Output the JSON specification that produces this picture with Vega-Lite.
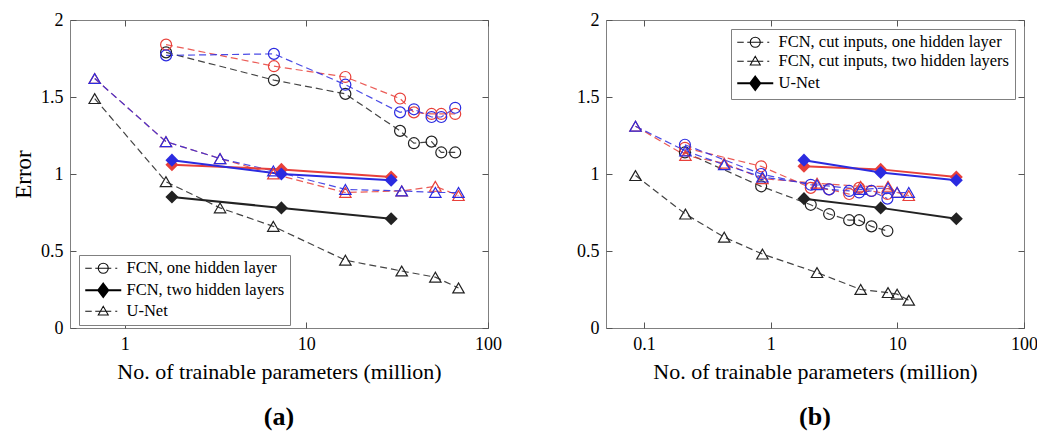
{
  "$schema": "https://vega.github.io/schema/vega-lite/v6.json",
  "background": "white",
  "padding": {"left": 12, "top": 10, "right": 0, "bottom": 0},
  "spacing": 74,
  "resolve": {
    "scale": {"shape": "independent", "color": "independent", "fill": "independent", "stroke": "independent", "strokeWidth": "independent"},
    "legend": {"shape": "independent", "fill": "independent", "stroke": "independent", "strokeWidth": "independent"}
  },
  "config": {
    "font": "Liberation Serif",
    "view": {"stroke": "#808080", "strokeWidth": 1},
    "axis": {
      "domain": false, "grid": false, "tickColor": "#555555", "tickSize": -6, "tickWidth": 1,
      "labelPadding": 13, "labelFontSize": 18, "labelColor": "black", "labelFont": "Liberation Serif",
      "labelFlush": false,
      "titleFontSize": 22, "titleFontWeight": "normal", "titleColor": "black", "titleFont": "Liberation Serif"
    },
    "legend": {
      "labelFont": "Liberation Serif", "orient": "none", "title": null, "direction": "vertical",
      "labelFontSize": 16.5, "labelColor": "black", "labelLimit": 400,
      "symbolSize": 100, "symbolOffset": 11, "labelOffset": 15,
      "symbolOpacity": 1, "strokeColor": "#808080", "fillColor": "white", "padding": 5, "rowPadding": 2
    },
    "title": {"font": "Liberation Serif", "fontSize": 26, "fontWeight": "bold", "color": "black"}
  },
  "datasets": {
    "a": [
      {"model": "FCN, one hidden layer", "x": 1.69, "A": 1.79, "B": 1.84, "C": 1.77},
      {"model": "FCN, one hidden layer", "x": 6.63, "A": 1.61, "B": 1.70, "C": 1.78},
      {"model": "FCN, one hidden layer", "x": 16.4, "A": 1.52, "B": 1.63, "C": 1.58},
      {"model": "FCN, one hidden layer", "x": 32.8, "A": 1.28, "B": 1.49, "C": 1.40},
      {"model": "FCN, one hidden layer", "x": 39.1, "A": 1.20, "B": 1.40, "C": 1.42},
      {"model": "FCN, one hidden layer", "x": 48.9, "A": 1.21, "B": 1.39, "C": 1.37},
      {"model": "FCN, one hidden layer", "x": 55.3, "A": 1.14, "B": 1.39, "C": 1.37},
      {"model": "FCN, one hidden layer", "x": 66.0, "A": 1.14, "B": 1.39, "C": 1.43},
      {"model": "FCN, two hidden layers", "x": 1.82, "A": 0.85, "B": 1.06, "C": 1.09},
      {"model": "FCN, two hidden layers", "x": 7.29, "A": 0.78, "B": 1.03, "C": 1.00},
      {"model": "FCN, two hidden layers", "x": 29.3, "A": 0.71, "B": 0.98, "C": 0.96},
      {"model": "U-Net", "x": 0.684, "A": 1.49, "B": 1.62, "C": 1.62},
      {"model": "U-Net", "x": 1.687, "A": 0.95, "B": 1.21, "C": 1.21},
      {"model": "U-Net", "x": 3.35, "A": 0.78, "B": 1.10, "C": 1.10},
      {"model": "U-Net", "x": 6.58, "A": 0.66, "B": 1.00, "C": 1.02},
      {"model": "U-Net", "x": 16.4, "A": 0.44, "B": 0.88, "C": 0.90},
      {"model": "U-Net", "x": 33.5, "A": 0.37, "B": 0.89, "C": 0.89},
      {"model": "U-Net", "x": 51.3, "A": 0.33, "B": 0.92, "C": 0.88},
      {"model": "U-Net", "x": 68.8, "A": 0.26, "B": 0.86, "C": 0.88}
    ],
    "b": [
      {"model": "FCN, cut inputs, one hidden layer", "x": 0.21, "A": 1.14, "B": 1.17, "C": 1.19},
      {"model": "FCN, cut inputs, one hidden layer", "x": 0.84, "A": 0.92, "B": 1.05, "C": 1.00},
      {"model": "FCN, cut inputs, one hidden layer", "x": 2.07, "A": 0.80, "B": 0.91, "C": 0.93},
      {"model": "FCN, cut inputs, one hidden layer", "x": 2.89, "A": 0.74, "B": 0.90, "C": 0.90},
      {"model": "FCN, cut inputs, one hidden layer", "x": 4.16, "A": 0.70, "B": 0.87, "C": 0.89},
      {"model": "FCN, cut inputs, one hidden layer", "x": 4.99, "A": 0.70, "B": 0.91, "C": 0.88},
      {"model": "FCN, cut inputs, one hidden layer", "x": 6.24, "A": 0.66, "B": 0.89, "C": 0.89},
      {"model": "FCN, cut inputs, one hidden layer", "x": 8.34, "A": 0.63, "B": 0.87, "C": 0.84},
      {"model": "FCN, cut inputs, two hidden layers", "x": 0.0855, "A": 0.99, "B": 1.31, "C": 1.31},
      {"model": "FCN, cut inputs, two hidden layers", "x": 0.212, "A": 0.74, "B": 1.12, "C": 1.15},
      {"model": "FCN, cut inputs, two hidden layers", "x": 0.429, "A": 0.59, "B": 1.07, "C": 1.06},
      {"model": "FCN, cut inputs, two hidden layers", "x": 0.86, "A": 0.48, "B": 0.97, "C": 0.98},
      {"model": "FCN, cut inputs, two hidden layers", "x": 2.32, "A": 0.36, "B": 0.94, "C": 0.93},
      {"model": "FCN, cut inputs, two hidden layers", "x": 5.13, "A": 0.25, "B": 0.92, "C": 0.90},
      {"model": "FCN, cut inputs, two hidden layers", "x": 8.44, "A": 0.23, "B": 0.92, "C": 0.91},
      {"model": "FCN, cut inputs, two hidden layers", "x": 9.95, "A": 0.22, "B": 0.88, "C": 0.88},
      {"model": "FCN, cut inputs, two hidden layers", "x": 12.3, "A": 0.18, "B": 0.86, "C": 0.88},
      {"model": "U-Net", "x": 1.83, "A": 0.84, "B": 1.05, "C": 1.09},
      {"model": "U-Net", "x": 7.38, "A": 0.78, "B": 1.03, "C": 1.01},
      {"model": "U-Net", "x": 29.2, "A": 0.71, "B": 0.98, "C": 0.96}
    ]
  },
  "hconcat": [
    {
      "width": 418, "height": 308,
      "data": {"name": "a"},
      "transform": [{"fold": ["A", "B", "C"], "as": ["set", "y"]}],
      "title": {"text": "(a)", "orient": "bottom", "frame": "group", "offset": 22},
      "layer": [
        {
          "encoding": {
            "x": {"field": "x", "type": "quantitative", "scale": {"type": "log", "domain": [0.5, 100], "nice": false},
                  "axis": {"values": [1, 10, 100], "format": "~g", "title": "No. of trainable parameters (million)", "titlePadding": 8}},
            "y": {"field": "y", "type": "quantitative", "scale": {"domain": [0, 2], "nice": false, "zero": false},
                  "axis": {"values": [0, 0.5, 1, 1.5, 2], "format": "~g", "title": "Error", "titlePadding": 5, "titleFontSize": 23}}
          },
          "layer": [
            {
              "transform": [{"filter": "datum.model != 'FCN, two hidden layers'"}],
              "mark": {"type": "line", "strokeWidth": 1.2, "strokeDash": [7, 4], "opacity": 0.85},
              "encoding": {"detail": {"field": "model"},
                "color": {"field": "set", "type": "nominal", "scale": {"domain": ["A", "B", "C"], "range": ["#222222", "#e8403a", "#2b2be0"]}, "legend": null}}
            },
            {
              "transform": [{"filter": "datum.model == 'FCN, two hidden layers'"}],
              "mark": {"type": "line", "strokeWidth": 2},
              "encoding": {"detail": {"field": "model"},
                "color": {"field": "set", "type": "nominal", "scale": {"domain": ["A", "B", "C"], "range": ["#222222", "#e8403a", "#2b2be0"]}, "legend": null}}
            },
            {
              "transform": [{"filter": "datum.model == 'FCN, one hidden layer'"}],
              "mark": {"type": "point", "shape": "circle", "filled": false, "size": 120, "strokeWidth": 1.2, "opacity": 1},
              "encoding": {"color": {"field": "set", "type": "nominal", "scale": {"domain": ["A", "B", "C"], "range": ["#222222", "#e8403a", "#2b2be0"]}, "legend": null}}
            },
            {
              "transform": [{"filter": "datum.model == 'U-Net'"}],
              "mark": {"type": "point", "shape": "triangle-up", "filled": false, "size": 130, "strokeWidth": 1.2, "opacity": 1},
              "encoding": {"color": {"field": "set", "type": "nominal", "scale": {"domain": ["A", "B", "C"], "range": ["#222222", "#e8403a", "#2b2be0"]}, "legend": null}}
            },
            {
              "transform": [{"filter": "datum.model == 'FCN, two hidden layers'"}],
              "mark": {"type": "point", "filled": true, "shape": "diamond", "size": 170, "opacity": 1},
              "encoding": {"color": {"field": "set", "type": "nominal", "scale": {"domain": ["A", "B", "C"], "range": ["#222222", "#e8403a", "#2b2be0"]}, "legend": null}}
            },
            {
              "mark": {"type": "point", "filled": true, "opacity": 0},
              "encoding": {
                "shape": {"field": "model", "type": "nominal",
                  "scale": {"domain": ["FCN, one hidden layer", "FCN, two hidden layers", "U-Net"],
                    "range": ["M-3.6,0L-2.3,0M-1.6,0L1.6,0M2.4,0L2.8,0M-1,0A1,1 0 1,1 1,0A1,1 0 1,1 -1,0", "M-3.6,0L3.6,0M0,-1.3L1,0L0,1.3L-1,0Z", "M-3.6,0L-2.3,0M-1.6,0L1.6,0M2.4,0L2.8,0M-1,0.75L0,-1L1,0.75Z"]},
                  "legend": {"legendX": 9, "legendY": 235}
                },
                "fill": {"field": "model", "type": "nominal",
                  "scale": {"domain": ["FCN, one hidden layer", "FCN, two hidden layers", "U-Net"], "range": ["transparent", "black", "transparent"]},
                  "legend": {"legendX": 9, "legendY": 235}
                },
                "stroke": {"field": "model", "type": "nominal",
                  "scale": {"domain": ["FCN, one hidden layer", "FCN, two hidden layers", "U-Net"], "range": ["#111111", "#000000", "#111111"]},
                  "legend": {"legendX": 9, "legendY": 235}
                },
                "strokeWidth": {"field": "model", "type": "nominal",
                  "scale": {"type": "ordinal", "domain": ["FCN, one hidden layer", "FCN, two hidden layers", "U-Net"], "range": [1.1, 2, 1.1]},
                  "legend": {"legendX": 9, "legendY": 235}
                }
              }
            }
          ]
        },
        {
          "mark": {"type": "point", "opacity": 0},
          "encoding": {
            "x": {"field": "x", "type": "quantitative", "axis": {"orient": "top", "labels": false, "title": null, "values": [1, 10, 100]}},
            "y": {"field": "y", "type": "quantitative", "axis": {"orient": "right", "labels": false, "title": null, "values": [0, 0.5, 1, 1.5, 2]}}
          }
        }
      ],
      "resolve": {"axis": {"x": "independent", "y": "independent"}}
    },
    {
      "width": 418, "height": 308,
      "data": {"name": "b"},
      "transform": [{"fold": ["A", "B", "C"], "as": ["set", "y"]}],
      "title": {"text": "(b)", "orient": "bottom", "frame": "group", "offset": 22},
      "layer": [
        {
          "encoding": {
            "x": {"field": "x", "type": "quantitative", "scale": {"type": "log", "domain": [0.05, 100], "nice": false},
                  "axis": {"values": [0.1, 1, 10, 100], "format": "~g", "title": "No. of trainable parameters (million)", "titlePadding": 8}},
            "y": {"field": "y", "type": "quantitative", "scale": {"domain": [0, 2], "nice": false, "zero": false},
                  "axis": {"values": [0, 0.5, 1, 1.5, 2], "format": "~g", "title": null}}
          },
          "layer": [
            {
              "transform": [{"filter": "datum.model != 'U-Net'"}],
              "mark": {"type": "line", "strokeWidth": 1.2, "strokeDash": [7, 4], "opacity": 0.85},
              "encoding": {"detail": {"field": "model"},
                "color": {"field": "set", "type": "nominal", "scale": {"domain": ["A", "B", "C"], "range": ["#222222", "#e8403a", "#2b2be0"]}, "legend": null}}
            },
            {
              "transform": [{"filter": "datum.model == 'U-Net'"}],
              "mark": {"type": "line", "strokeWidth": 2},
              "encoding": {"detail": {"field": "model"},
                "color": {"field": "set", "type": "nominal", "scale": {"domain": ["A", "B", "C"], "range": ["#222222", "#e8403a", "#2b2be0"]}, "legend": null}}
            },
            {
              "transform": [{"filter": "datum.model == 'FCN, cut inputs, one hidden layer'"}],
              "mark": {"type": "point", "shape": "circle", "filled": false, "size": 120, "strokeWidth": 1.2, "opacity": 1},
              "encoding": {"color": {"field": "set", "type": "nominal", "scale": {"domain": ["A", "B", "C"], "range": ["#222222", "#e8403a", "#2b2be0"]}, "legend": null}}
            },
            {
              "transform": [{"filter": "datum.model == 'FCN, cut inputs, two hidden layers'"}],
              "mark": {"type": "point", "shape": "triangle-up", "filled": false, "size": 130, "strokeWidth": 1.2, "opacity": 1},
              "encoding": {"color": {"field": "set", "type": "nominal", "scale": {"domain": ["A", "B", "C"], "range": ["#222222", "#e8403a", "#2b2be0"]}, "legend": null}}
            },
            {
              "transform": [{"filter": "datum.model == 'U-Net'"}],
              "mark": {"type": "point", "filled": true, "shape": "diamond", "size": 170, "opacity": 1},
              "encoding": {"color": {"field": "set", "type": "nominal", "scale": {"domain": ["A", "B", "C"], "range": ["#222222", "#e8403a", "#2b2be0"]}, "legend": null}}
            },
            {
              "mark": {"type": "point", "filled": true, "opacity": 0},
              "encoding": {
                "shape": {"field": "model", "type": "nominal",
                  "scale": {"domain": ["FCN, cut inputs, one hidden layer", "FCN, cut inputs, two hidden layers", "U-Net"],
                    "range": ["M-3.6,0L-2.3,0M-1.6,0L1.6,0M2.4,0L2.8,0M-1,0A1,1 0 1,1 1,0A1,1 0 1,1 -1,0", "M-3.6,0L-2.3,0M-1.6,0L1.6,0M2.4,0L2.8,0M-1,0.75L0,-1L1,0.75Z", "M-3.6,0L3.6,0M0,-1.3L1,0L0,1.3L-1,0Z"]},
                  "legend": {"legendX": 125, "legendY": 9}
                },
                "fill": {"field": "model", "type": "nominal",
                  "scale": {"domain": ["FCN, cut inputs, one hidden layer", "FCN, cut inputs, two hidden layers", "U-Net"], "range": ["transparent", "transparent", "black"]},
                  "legend": {"legendX": 125, "legendY": 9}
                },
                "stroke": {"field": "model", "type": "nominal",
                  "scale": {"domain": ["FCN, cut inputs, one hidden layer", "FCN, cut inputs, two hidden layers", "U-Net"], "range": ["#111111", "#111111", "#000000"]},
                  "legend": {"legendX": 125, "legendY": 9}
                },
                "strokeWidth": {"field": "model", "type": "nominal",
                  "scale": {"type": "ordinal", "domain": ["FCN, cut inputs, one hidden layer", "FCN, cut inputs, two hidden layers", "U-Net"], "range": [1.1, 1.1, 2]},
                  "legend": {"legendX": 125, "legendY": 9}
                }
              }
            }
          ]
        },
        {
          "mark": {"type": "point", "opacity": 0},
          "encoding": {
            "x": {"field": "x", "type": "quantitative", "axis": {"orient": "top", "labels": false, "title": null, "values": [0.1, 1, 10, 100]}},
            "y": {"field": "y", "type": "quantitative", "axis": {"orient": "right", "labels": false, "title": null, "values": [0, 0.5, 1, 1.5, 2]}}
          }
        }
      ],
      "resolve": {"axis": {"x": "independent", "y": "independent"}}
    }
  ]
}
